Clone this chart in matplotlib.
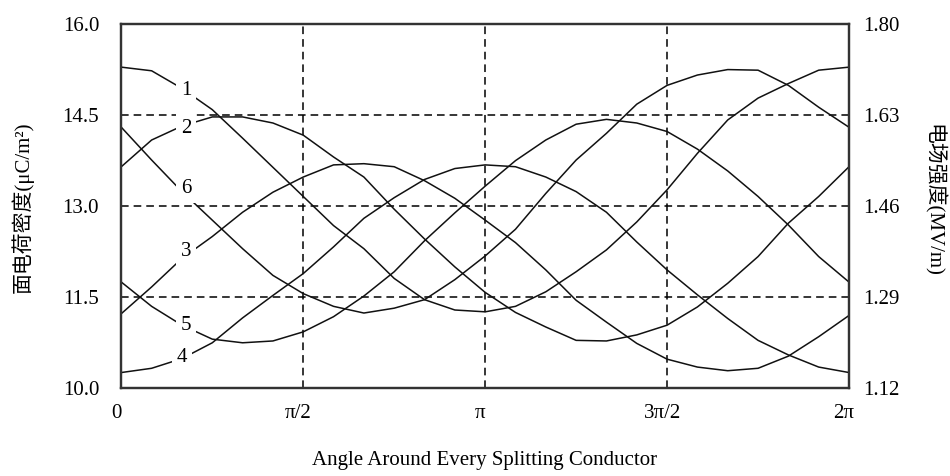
import numpy as np
import matplotlib
matplotlib.use("Agg")
import matplotlib.pyplot as plt
from matplotlib.transforms import ScaledTranslation

plt.rcParams['lines.scale_dashes'] = False
SERIF = ['Liberation Serif', 'Noto Sans CJK SC']
plt.rcParams['font.family'] = SERIF

# ---- data, angle in degrees every 15 deg ----
angle_deg = [0, 15, 30, 45, 60, 75, 90, 105, 120, 135, 150, 165, 180,
             195, 210, 225, 240, 255, 270, 285, 300, 315, 330, 345, 360]

curve1 = [15.29, 15.23, 14.94, 14.59, 14.12, 13.64, 13.16, 12.68, 12.30, 11.81, 11.46, 11.29, 11.26,
          11.35, 11.59, 11.92, 12.28, 12.74, 13.27, 13.87, 14.42, 14.78, 15.02, 15.24, 15.29]
curve2 = [13.65, 14.09, 14.32, 14.47, 14.47, 14.37, 14.17, 13.81, 13.48, 12.95, 12.46, 12.00, 11.58,
          11.25, 11.01, 10.79, 10.78, 10.88, 11.04, 11.34, 11.73, 12.17, 12.72, 13.16, 13.65]
curve3 = [11.23, 11.67, 12.14, 12.50, 12.90, 13.23, 13.48, 13.68, 13.70, 13.65, 13.42, 13.13, 12.77,
          12.40, 11.95, 11.45, 11.09, 10.74, 10.48, 10.35, 10.29, 10.33, 10.53, 10.85, 11.20]
curve4 = [10.26, 10.33, 10.49, 10.75, 11.16, 11.53, 11.89, 12.33, 12.80, 13.14, 13.44, 13.62, 13.68,
          13.65, 13.48, 13.24, 12.90, 12.41, 11.95, 11.54, 11.15, 10.79, 10.55, 10.35, 10.26]
curve5 = [11.75, 11.35, 11.04, 10.81, 10.75, 10.78, 10.93, 11.18, 11.52, 11.92, 12.43, 12.89, 13.33,
          13.75, 14.09, 14.35, 14.43, 14.37, 14.23, 13.94, 13.58, 13.16, 12.69, 12.17, 11.75]
curve6 = [14.30, 13.76, 13.24, 12.77, 12.30, 11.86, 11.56, 11.35, 11.24, 11.32, 11.46, 11.79, 12.18,
          12.62, 13.21, 13.76, 14.20, 14.68, 14.99, 15.16, 15.25, 15.24, 14.99, 14.63, 14.30]

curve_names = ['1', '2', '3', '4', '5', '6']
label_x = [0.562, 0.562, 0.562, 0.527, 0.562, 0.562]
label_y = [14.91, 14.28, 12.25, 10.51, 11.04, 13.29]

x_ticks = [0, np.pi / 2, np.pi, 3 * np.pi / 2, 2 * np.pi]
x_ticklabels = ['0', 'π/2', 'π', '3π/2', '2π']
y_ticks = [10.0, 11.5, 13.0, 14.5, 16.0]
y2_ticks = [1.12, 1.29, 1.46, 1.63, 1.80]

ylabel_left = '面电荷密度(μC/m²)'
ylabel_right = '电场强度(MV/m)'
xlabel = 'Angle Around Every Splitting Conductor'

# ---- figure ----
fig = plt.figure(figsize=(9.5, 4.76), dpi=100)
ax = fig.add_axes([0.1277, 0.1842, 0.766, 0.7653])

x = np.deg2rad(angle_deg)
for ys in [curve1, curve2, curve3, curve4, curve5, curve6]:
    ax.plot(x, ys, color='#111111', lw=1.1, zorder=3)

ax.set_xlim(0, 2 * np.pi)
ax.set_ylim(10, 16)
ax.set_xticks(x_ticks)
ax.set_xticklabels(x_ticklabels)
ax.set_yticks(y_ticks)
ax.set_yticklabels([f'{v:.1f}' for v in y_ticks])
ax.tick_params(length=0, labelsize=15)
ax.tick_params(axis='x', pad=11)
ax.tick_params(axis='y', pad=16)
ax.grid(True, color='black', lw=1.1, linestyle=(0, (5.5, 3.6)), zorder=1)

for lab in ax.get_xticklabels():
    lab.set_transform(lab.get_transform() + ScaledTranslation(-5 / 100, 0, fig.dpi_scale_trans))

for name, lx, ly in zip(curve_names, label_x, label_y):
    ax.text(lx, ly, name, fontsize=15, ha='center', va='center', zorder=5,
            bbox=dict(facecolor='white', edgecolor='none', pad=3.5))

ax2 = ax.twinx()
ax2.set_ylim(1.12, 1.80)
ax2.set_yticks(y2_ticks)
ax2.set_yticklabels([f'{v:.2f}' for v in y2_ticks])
ax2.tick_params(length=0, labelsize=15, pad=10)

for a in (ax, ax2):
    for s in a.spines.values():
        s.set_linewidth(1.6)
        s.set_color('#333333')

fig.text(22 / 950, 1 - 207 / 476, ylabel_left, rotation=90, ha='center', va='center', fontsize=15)
fig.text(933 / 950, 1 - 200 / 476, ylabel_right, rotation=270, ha='center', va='center', fontsize=15)
fig.text(485 / 950, 1 - 460 / 476, xlabel, ha='center', va='center', fontsize=15)

fig.savefig('out.png', dpi=100)
